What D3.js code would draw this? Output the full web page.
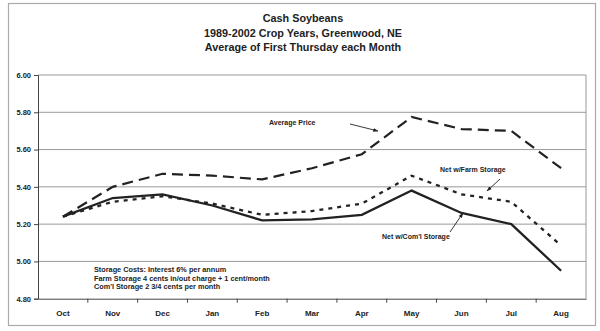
<!DOCTYPE html>
<html><head><meta charset="utf-8">
<script src="https://cdn.jsdelivr.net/npm/d3@7"></script>
<style>body{margin:0;background:#fff}svg{display:block}text{font-family:"Liberation Sans",Arial,sans-serif;fill:#222}</style>
</head><body><svg id="c" width="600" height="331"></svg>
<script>
const months = ["Oct","Nov","Dec","Jan","Feb","Mar","Apr","May","Jun","Jul","Aug"];
const averagePrice = [5.24,5.40,5.47,5.46,5.44,5.50,5.575,5.775,5.71,5.70,5.50];
const netFarmStorage = [5.24,5.32,5.35,5.31,5.25,5.27,5.31,5.46,5.36,5.32,5.085];
const netComlStorage = [5.24,5.34,5.36,5.30,5.22,5.225,5.25,5.38,5.26,5.20,4.95];
const yTicks = [4.80,5.00,5.20,5.40,5.60,5.80,6.00];
const titleLines = ["Cash Soybeans","1989-2002 Crop Years, Greenwood, NE","Average of First Thursday each Month"];
const noteLines = ["Storage Costs: Interest 6% per annum","Farm Storage 4 cents in/out charge + 1 cent/month","Com'l Storage 2 3/4 cents per month"];

const svg = d3.select("#c");
const L=38, R=586, T=75, B=298.7;
const x = d3.scaleBand().domain(months).range([L,R]);
const y = d3.scaleLinear().domain([4.8,6.0]).range([B,T]);
const cx = m => x(m)+x.bandwidth()/2;

svg.append("rect").attr("x",8.5).attr("y",3.5).attr("width",587).attr("height",322)
  .attr("fill","none").attr("stroke","#aaa").attr("stroke-width",1.2);

svg.selectAll(".tt").data(titleLines).join("text")
  .attr("x",303).attr("y",(d,i)=>22+i*14.5).attr("text-anchor","middle")
  .attr("font-size",10.8).attr("font-weight","bold").attr("fill","#333").text(d=>d);

// gridlines
svg.append("g").selectAll("line").data(yTicks.slice(1)).join("line")
  .attr("x1",L).attr("x2",R).attr("y1",d=>y(d)).attr("y2",d=>y(d))
  .attr("stroke","#999").attr("stroke-width",1);
svg.append("line").attr("x1",R).attr("x2",R).attr("y1",T).attr("y2",B).attr("stroke","#999");

// y axis
const ya = svg.append("g").attr("transform",`translate(${L},0)`)
  .call(d3.axisLeft(y).tickValues(yTicks).tickFormat(d3.format(".2f")).tickSize(4).tickPadding(3));
ya.select(".domain").attr("stroke","#444");
ya.selectAll("line").attr("stroke","#444");
ya.selectAll("text").attr("font-size",7.5).attr("font-weight","bold").attr("fill","#333").style("font-family","Liberation Sans, Arial");

// x axis
const xa = svg.append("g").attr("transform",`translate(0,${B})`)
  .call(d3.axisBottom(x).tickSize(0).tickPadding(12));
xa.select(".domain").attr("stroke","#444");
xa.selectAll("text").attr("font-size",8).attr("font-weight","bold").attr("fill","#333").style("font-family","Liberation Sans, Arial");
xa.selectAll(".bt").data(months.slice(1)).join("line").attr("class","bt")
  .attr("x1",d=>x(d)).attr("x2",d=>x(d)).attr("y1",0).attr("y2",4).attr("stroke","#444");

const line = d3.line().x((d,i)=>cx(months[i])).y(d=>y(d));
svg.append("path").datum(averagePrice).attr("d",line).attr("fill","none")
  .attr("stroke","#222").attr("stroke-width",2.2).attr("stroke-dasharray","11,6");
svg.append("path").datum(netFarmStorage).attr("d",line).attr("fill","none")
  .attr("stroke","#222").attr("stroke-width",2.3).attr("stroke-dasharray","4,5");
svg.append("path").datum(netComlStorage).attr("d",line).attr("fill","none")
  .attr("stroke","#222").attr("stroke-width",2.3);

// annotations
const defs = svg.append("defs");
defs.append("marker").attr("id","ah").attr("viewBox","0 0 10 10").attr("refX",9).attr("refY",5)
  .attr("markerWidth",6).attr("markerHeight",6).attr("orient","auto")
  .append("path").attr("d","M0,1.5L10,5L0,8.5Z").attr("fill","#222");
const ann = [
  {t:"Average Price", x:269, y:125, ax1:350, ay1:124, ax2:378, ay2:131},
  {t:"Net w/Farm Storage", x:440, y:172, ax1:500, ay1:179, ax2:487, ay2:191},
  {t:"Net w/Com'l Storage", x:382, y:239, ax1:450, ay1:232, ax2:463, ay2:213}
];
ann.forEach(a=>{
  svg.append("text").attr("x",a.x).attr("y",a.y).attr("font-size",7).attr("font-weight","bold").text(a.t);
  svg.append("line").attr("x1",a.ax1).attr("y1",a.ay1).attr("x2",a.ax2).attr("y2",a.ay2)
    .attr("stroke","#222").attr("stroke-width",0.9).attr("marker-end","url(#ah)");
});
svg.selectAll(".note").data(noteLines).join("text").attr("class","note")
  .attr("x",94).attr("y",(d,i)=>272+i*8.7).attr("font-size",7.3).attr("font-weight","bold").text(d=>d);
</script></body></html>
